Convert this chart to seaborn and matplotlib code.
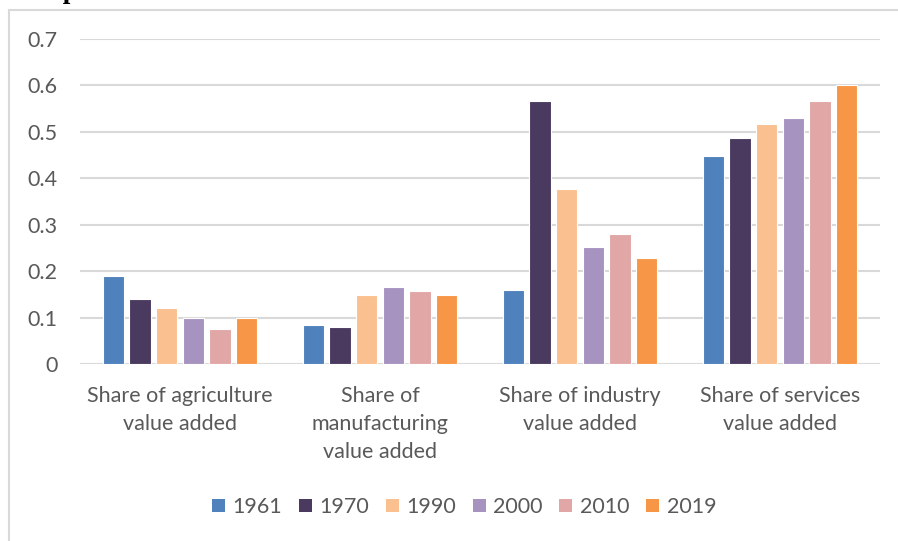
import matplotlib
matplotlib.use("Agg")
import matplotlib.pyplot as plt
from matplotlib.patches import Rectangle
import seaborn as sns
import pandas as pd

categories = [
    "Share of agriculture\nvalue added",
    "Share of\nmanufacturing\nvalue added",
    "Share of industry\nvalue added",
    "Share of services\nvalue added",
]
years = ["1961", "1970", "1990", "2000", "2010", "2019"]
share_1961 = [0.19, 0.084, 0.16, 0.449]
share_1970 = [0.14, 0.080, 0.567, 0.486]
share_1990 = [0.12, 0.149, 0.377, 0.517]
share_2000 = [0.10, 0.166, 0.253, 0.529]
share_2010 = [0.075, 0.158, 0.279, 0.567]
share_2019 = [0.10, 0.149, 0.229, 0.60]
colors = ["#4F81BD", "#4B3A60", "#FAC090", "#A793C0", "#E0A7A6", "#F79646"]

series = [share_1961, share_1970, share_1990, share_2000, share_2010, share_2019]
rows = []
for year, vals in zip(years, series):
    for cat, v in zip(categories, vals):
        rows.append({"sector": cat, "year": year, "share": v})
df = pd.DataFrame(rows)

sns.set_theme(style="white")
plt.rcParams["font.family"] = ["Lato", "DejaVu Sans"]

fig = plt.figure(figsize=(8.98, 5.41), dpi=100)
ax = fig.add_axes([80 / 898, 1 - 364 / 541, 800 / 898, 325 / 541])

sns.barplot(data=df, x="sector", y="share", hue="year", order=categories,
            hue_order=years, palette=colors, width=0.8, gap=0.2,
            edgecolor="white", linewidth=0.8, saturation=1, ax=ax, zorder=3)

ax.set_ylim(0, 0.7)
ax.set_xlim(-0.5, 3.5)
ax.set_yticks([0, 0.1, 0.2, 0.3, 0.4, 0.5, 0.6, 0.7])
ax.set_yticklabels(["0", "0.1", "0.2", "0.3", "0.4", "0.5", "0.6", "0.7"])
ax.yaxis.grid(True, color="#D9D9D9", linewidth=1.5, zorder=0)
ax.set_axisbelow(True)
for s in ax.spines.values():
    s.set_visible(False)
ax.set_xlabel("")
ax.set_ylabel("")
ax.tick_params(axis="y", length=0, pad=16, labelsize=15.5, labelcolor="#595959")
ax.tick_params(axis="x", length=0, pad=16, labelsize=15.5, labelcolor="#595959")
for lbl in ax.get_xticklabels():
    lbl.set_linespacing(1.5)

ax.legend_.remove()
handles = [Rectangle((0, 0), 1, 1, facecolor=c, edgecolor="none") for c in colors]
fig.legend(handles, years, loc="center", bbox_to_anchor=(464 / 898, 1 - 507 / 541),
           ncol=6, frameon=False, fontsize=15.5, labelcolor="#595959",
           handlelength=0.6, handleheight=0.6, handletextpad=0.35,
           columnspacing=0.78)

# chart frame
fig.patches.append(Rectangle((9 / 898, -0.1), 1.2, 1 - 10 / 541 + 0.1,
                             transform=fig.transFigure, fill=False,
                             edgecolor="#D9D9D9", linewidth=1.5))

# document caption above the chart
fig.text(16 / 898, 1 + 2 / 541, "Graph 3: Evolution of sectoral value added shares between 1961 and 2019",
         fontsize=19.5, fontweight="bold", family=["Liberation Serif"],
         ha="left", va="baseline", color="black")

fig.savefig("out.png", dpi=100)
